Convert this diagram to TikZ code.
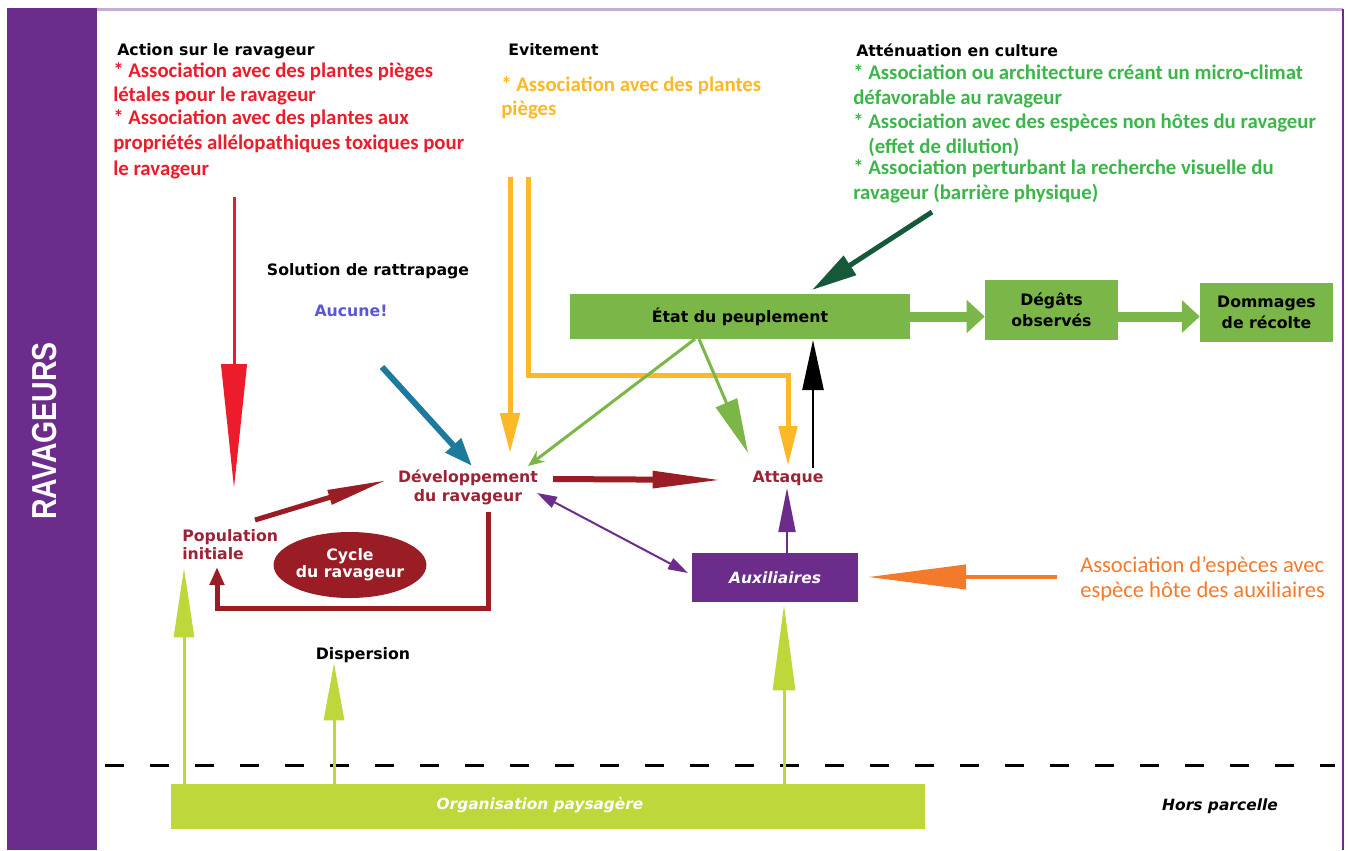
\documentclass[tikz,border=0pt]{standalone}
\usepackage{fontspec}
\usetikzlibrary{arrows.meta,shapes.geometric}
\newfontfamily\labf{DejaVu Sans}
\newfontfamily\calf{Carlito}
\newfontfamily\condf[FakeStretch=0.82]{Liberation Sans}
\definecolor{cpurple}{HTML}{6B2C8B}
\definecolor{cframe}{HTML}{C3AED6}
\definecolor{cgbox}{HTML}{7AB648}
\definecolor{clime}{HTML}{BED73A}
\definecolor{cdred}{HTML}{9A1C24}
\definecolor{cdredt}{HTML}{9B2335}
\definecolor{cred}{HTML}{EC1C2B}
\definecolor{cyellow}{HTML}{FCB827}
\definecolor{cgreent}{HTML}{3CB54A}
\definecolor{cteal}{HTML}{1C7B9D}
\definecolor{cdgreen}{HTML}{15593A}
\definecolor{corange}{HTML}{F47A2B}
\definecolor{cblue}{HTML}{5A56D8}
\begin{document}
\begin{tikzpicture}[x=0.75pt,y=-0.75pt,
  lbl/.style={font=\labf\bfseries\fontsize{11.8}{14.25}\selectfont, inner sep=0pt, align=center},
  hd/.style={lbl, anchor=base west, text=black},
  bline/.style={font=\calf\bfseries\fontsize{15.6}{18}\selectfont, inner sep=0pt, anchor=base west},
  oline/.style={font=\calf\fontsize{16.9}{20}\selectfont, inner sep=0pt, anchor=base west, text=corange},
  gbox/.style={draw=none, fill=cgbox, inner sep=0pt, font=\labf\bfseries\fontsize{11.8}{15.75}\selectfont, align=center},
]
\useasboundingbox (0,0) rectangle (1348,850);
% frame
\fill[cpurple] (7,8) rectangle (97,850);
\draw[cframe, line width=1.8pt] (97,9.5) -- (1343,9.5);
\draw[cpurple, line width=1.2pt] (1343,9) -- (1343,850);
\node[rotate=90, text=white, font=\condf\bfseries\fontsize{26}{30}\selectfont, inner sep=0pt] (rav) at (45,431) {RAVAGEURS};

% headings
\node[hd] (h1) at (117,55) {Action sur le ravageur};
\node[hd] (h2) at (508,55) {Evitement};
\node[hd] (h3) at (856,56) {Atténuation en culture};

% red block
\node[bline, text=cred] (r1) at (113,77) {* Association avec des plantes pièges};
\node[bline, text=cred] (r2) at (113,101) {létales pour le ravageur};
\node[bline, text=cred] (r3) at (113,124) {* Association avec des plantes aux};
\node[bline, text=cred] (r4) at (113,149) {propriétés allélopathiques toxiques pour};
\node[bline, text=cred] (r5) at (113,175) {le ravageur};

% yellow block
\node[bline, text=cyellow] (y1) at (501,91) {* Association avec des plantes};
\node[bline, text=cyellow] (y2) at (501,115) {pièges};

% green block
\node[bline, text=cgreent] (g1) at (853,79) {* Association ou architecture créant un micro-climat};
\node[bline, text=cgreent] (g2) at (853,104) {défavorable au ravageur};
\node[bline, text=cgreent] (g3) at (853,128) {* Association avec des espèces non hôtes du ravageur};
\node[bline, text=cgreent] (g4) at (868,153) {(effet de dilution)};
\node[bline, text=cgreent] (g5) at (853,174) {* Association perturbant la recherche visuelle du};
\node[bline, text=cgreent] (g6) at (853,199) {ravageur (barrière physique)};

% middle labels
\node[lbl, anchor=base] (sol) at (368,275) {Solution de rattrapage};
\node[lbl, anchor=base, text=cblue] (auc) at (351,316) {Aucune!};
\node[lbl, text=cdredt] (dev) at (468,487) {Développement\\du ravageur};
\node[lbl, anchor=base, text=cdredt] (att) at (788,482) {Attaque};
\node[lbl, text=cdredt, align=left, anchor=west, font=\labf\bfseries\fontsize{11.8}{13.5}\selectfont] (pop) at (182,545) {Population\\initiale};
\node[ellipse, fill=cdred, inner sep=0pt, minimum width=97.5pt, minimum height=49.5pt, text=white, font=\labf\bfseries\fontsize{11.8}{12.75}\selectfont, align=center] (cyc) at (350,565) {Cycle\\du ravageur};
\node[lbl, anchor=base] (disp) at (363,659) {Dispersion};

% boxes
\node[gbox, minimum width=255pt, minimum height=33.75pt] (etat) at (740,316.5) {État du peuplement};
\node[gbox, minimum width=99.75pt, minimum height=45pt] (deg) at (1051.5,310) {Dégâts\\observés};
\node[gbox, minimum width=99.75pt, minimum height=44.25pt] (dom) at (1266.5,312.5) {Dommages\\de récolte};
\node[fill=cpurple, inner sep=0pt, minimum width=124.5pt, minimum height=36.75pt, text=white, font=\labf\bfseries\itshape\fontsize{11.6}{14}\selectfont] (aux) at (775,577.5) {Auxiliaires};
\node[fill=clime, inner sep=0pt, minimum width=565.5pt, minimum height=33.75pt, text=white, font=\labf\bfseries\itshape\fontsize{11.5}{14}\selectfont] (org) at (548,806.5) {};
\node[text=white, inner sep=0pt, font=\labf\bfseries\itshape\fontsize{11.5}{14}\selectfont] (orgt) at (540,805) {Organisation paysagère};
\node[inner sep=0pt, font=\labf\bfseries\itshape\fontsize{11.6}{14}\selectfont] (hors) at (1220,806) {Hors parcelle};

% orange text
\node[oline] (o1) at (1080,572) {Association d’espèces avec};
\node[oline] (o2) at (1080,597) {espèce hôte des auxiliaires};

% coordinates
\coordinate (redS) at (234,197);
\coordinate (redE) at (234,488);
\coordinate (tealS) at (382,367);
\coordinate (tealE) at (472,466);
\coordinate (y1S) at (510,177);
\coordinate (y1E) at (510,453);
\coordinate (y2S) at (528,177);
\coordinate (y2C) at (528,375);
\coordinate (y2D) at (788,375);
\coordinate (y2E) at (788,466);
\coordinate (gl1S) at (695,339);
\coordinate (gl1E) at (528,466);
\coordinate (gl2S) at (699,339);
\coordinate (gl2E) at (748,453);
\coordinate (blkS) at (813,468);
\coordinate (blkE) at (813,340);
\coordinate (dgS) at (932,212);
\coordinate (dgE) at (812,290);
\coordinate (drS) at (553,479);
\coordinate (drE) at (722,480);
\coordinate (pdS) at (255,520);
\coordinate (pdE) at (387,480);
\coordinate (lpA) at (488,512);
\coordinate (lpB) at (488,608);
\coordinate (lpC) at (217,608);
\coordinate (lpE) at (217,567);
\coordinate (puA) at (537,493);
\coordinate (puB) at (688,573);
\coordinate (upS) at (787,553);
\coordinate (upE) at (787,488);
\coordinate (orS) at (1057,577);
\coordinate (orE) at (868,577);
\coordinate (l1S) at (184,784);
\coordinate (l1E) at (184,568);
\coordinate (l2S) at (334,784);
\coordinate (l2E) at (334,663);
\coordinate (l3S) at (784,784);
\coordinate (l3E) at (784,605);
\coordinate (dashA) at (105,765);
\coordinate (dashB) at (1335,765);

% dashed border
\draw[black, line width=2.25pt, dash pattern=on 14.25pt off 19.5pt] (dashA) -- (dashB);

% arrows
\draw[cred, line width=2.25pt, -{Triangle[length=93pt,width=19pt]}] (redS) -- (redE);
\draw[cteal, line width=4.5pt, -{Triangle[length=21pt,width=15pt]}] (tealS) -- (tealE);
\draw[cyellow, line width=3.75pt, -{Triangle[length=30pt,width=14.25pt]}] (y1S) -- (y1E);
\draw[cyellow, line width=3.75pt, -{Triangle[length=30pt,width=13.5pt]}] (y2S) -- (y2C) -- (y2D) -- (y2E);
\draw[cgbox, line width=2.25pt, -{Stealth[length=12pt,width=10pt]}] (gl1S) -- (gl1E);
\draw[cgbox, line width=2.25pt, -{Triangle[length=41pt,width=17pt]}] (gl2S) -- (gl2E);
\draw[black, line width=1.9pt, -{Triangle[length=37.5pt,width=15.75pt]}] (blkS) -- (blkE);
\draw[cdgreen, line width=3.75pt, -{Triangle[length=34pt,width=16.5pt]}] (dgS) -- (dgE);
\draw[cgbox, line width=7.5pt, -{Triangle[length=13.5pt,width=24pt]}] (etat.east) -- (etat.east -| deg.west);
\draw[cgbox, line width=7.5pt, -{Triangle[length=13.5pt,width=24pt]}] (deg.east |- etat.east) -- (etat.east -| dom.west);
\draw[cdred, line width=4.5pt, -{Triangle[length=52pt,width=12pt]}] (drS) -- (drE);
\draw[cdred, line width=3.75pt, -{Triangle[length=45pt,width=10.5pt]}] (pdS) -- (pdE);
\draw[cdred, line width=3.75pt, -{Triangle[length=13.5pt,width=10.5pt]}] (lpA) -- (lpB) -- (lpC) -- (lpE);
\draw[cpurple, line width=1.5pt, {Triangle[length=15pt,width=9pt]}-{Triangle[length=15pt,width=9pt]}] (puA) -- (puB);
\draw[cpurple, line width=1.5pt, -{Triangle[length=33pt,width=12.75pt]}] (upS) -- (upE);
\draw[corange, line width=3pt, -{Triangle[length=73.5pt,width=18pt]}] (orS) -- (orE);
\draw[clime, line width=2.25pt, -{Triangle[length=52pt,width=15pt]}] (l1S) -- (l1E);
\draw[clime, line width=2.25pt, -{Triangle[length=43pt,width=15pt]}] (l2S) -- (l2E);
\draw[clime, line width=2.25pt, -{Triangle[length=64pt,width=16.5pt]}] (l3S) -- (l3E);
\end{tikzpicture}
\end{document}
